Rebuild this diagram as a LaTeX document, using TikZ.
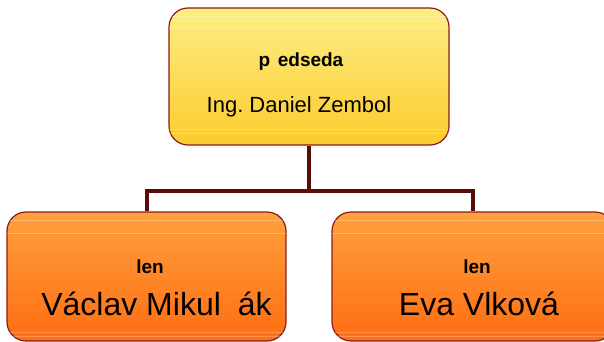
\documentclass[tikz,border=0pt]{standalone}
\usepackage{fontspec}
\setmainfont{Liberation Sans}
\frenchspacing
\definecolor{yelTop}{HTML}{FCEE86}
\definecolor{yelBot}{HTML}{FCCB2C}
\definecolor{orgTop}{HTML}{FFA13E}
\definecolor{orgBot}{HTML}{FF6D12}
\definecolor{boxEdge}{HTML}{8A1C16}
\definecolor{linkCol}{HTML}{5A0A08}
\tikzset{
  orgbox/.style={draw=boxEdge, line width=1.2pt, rounded corners=19pt, inner sep=0pt},
  yelbox/.style={orgbox, top color=yelTop, bottom color=yelBot},
  orabox/.style={orgbox, top color=orgTop, bottom color=orgBot},
  link/.style={draw=linkCol, line width=4pt},
  gloss/.style={draw=white, opacity=0.25, line width=0.8pt},
  lbl/.style={inner sep=0pt, anchor=base, text=black},
  roletxt/.style={lbl, font=\fontsize{19}{22}\selectfont\bfseries},
  nametop/.style={lbl, font=\fontsize{22}{26}\selectfont},
  namebig/.style={lbl, font=\fontsize{32}{38}\selectfont}
}
\begin{document}
\begin{tikzpicture}[x=1pt, y=-1pt]
\clip (0,0) rectangle (604,342);
\fill[white] (0,0) rectangle (604,342);
% boxes
\node[yelbox, minimum width=280pt, minimum height=137pt] (boss) at (309,76.5) {};
\node[orabox, minimum width=279pt, minimum height=129pt] (memA) at (146.5,276.5) {};
\node[orabox, minimum width=282pt, minimum height=129pt] (memB) at (473,276.5) {};
% gloss lines
\begin{scope}
\clip[rounded corners=19pt] (boss.south west) rectangle (boss.north east);
\draw[gloss] (169,16) -- (449,16);
\draw[gloss] (169,27) -- (449,27);
\draw[gloss] (169,129) -- (449,129);
\draw[gloss] (169,133) -- (449,133);
\end{scope}
\begin{scope}
\clip[rounded corners=19pt] (memA.south west) rectangle (memA.north east);
\draw[gloss] (7,220) -- (286,220);
\draw[gloss] (7,233) -- (286,233);
\draw[gloss] (7,332) -- (286,332);
\draw[gloss] (7,336) -- (286,336);
\end{scope}
\begin{scope}
\clip[rounded corners=19pt] (memB.south west) rectangle (memB.north east);
\draw[gloss] (332,220) -- (614,220);
\draw[gloss] (332,233) -- (614,233);
\draw[gloss] (332,332) -- (614,332);
\draw[gloss] (332,336) -- (614,336);
\end{scope}
% connectors
\coordinate (bend) at (309,191);
\draw[link] (boss.south) -- (bend);
\draw[link, line join=miter] (memA.north) |- (bend) -| (memB.north);
% texts
\node[roletxt] (tRoleBoss) at (301,67) {p \kern0.12em edseda};
\node[nametop] (tNameBoss) at (299,113) {Ing. Daniel Zembol};
\node[roletxt] (tRoleA) at (150,273) {len};
\node[namebig] (tNameA) at (156.5,315) {Václav Mikul \kern0.25em ák};
\node[roletxt] (tRoleB) at (477,273) {len};
\node[namebig] (tNameB) at (479,315) {Eva Vlková};
\end{tikzpicture}
\end{document}
